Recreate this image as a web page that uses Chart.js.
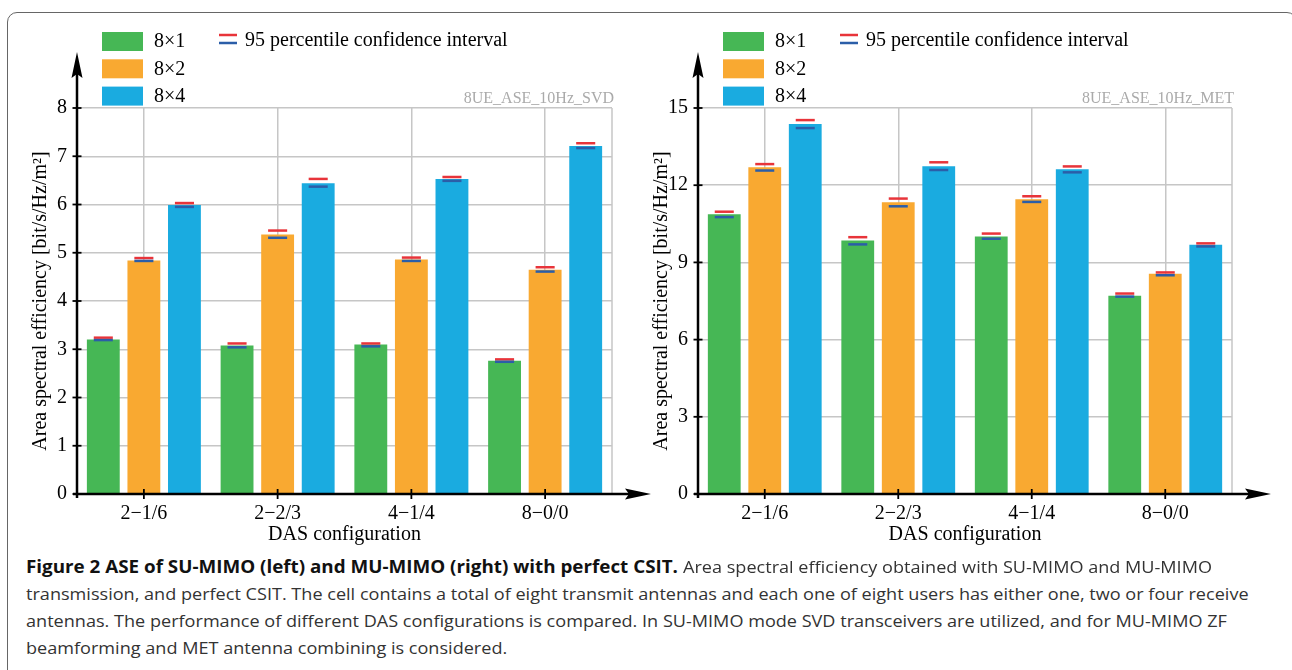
<!DOCTYPE html>
<html>
<head>
<meta charset="utf-8">
<script src="https://cdn.jsdelivr.net/npm/chart.js@4.4.0/dist/chart.umd.min.js"></script>
<style>
html, body { margin: 0; padding: 0; background: #fff; }
body { width: 1292px; height: 670px; position: relative; overflow: hidden; }
#frame { position: absolute; left: 7px; top: 12px; width: 1290px; height: 700px; border: 1.5px solid #666; border-radius: 10px; box-sizing: border-box; }
#left { position: absolute; left: 0; top: 0; }
#right { position: absolute; left: 621px; top: 0; }
#caption { position: absolute; left: 26px; top: 553px; width: 1250px; font-family: "Open Sans", sans-serif; font-size: 17px; color: #333; white-space: nowrap; }
#caption div { position: relative; height: 27px; line-height: 27px; }
#caption span { position: absolute; left: 0; top: 0; transform-origin: 0 50%; }
#caption span.b { font-weight: bold; color: #111; }
</style>
</head>
<body>
<div id="frame"></div>
<canvas id="left" width="660" height="550"></canvas>
<canvas id="right" width="671" height="550"></canvas>
<div id="caption"></div>

<script>
// categorias e séries
const categories = ['2−1/6', '2−2/3', '4−1/4', '8−0/0'];
const seriesLabels = ['8×1', '8×2', '8×4'];
const seriesColors = ['#46b755', '#f9a931', '#1aabe0'];

// SU-MIMO (SVD) - esquerda
const svd8x1 = [3.20, 3.08, 3.10, 2.76];
const svd8x2 = [4.84, 5.38, 4.86, 4.65];
const svd8x4 = [5.99, 6.44, 6.53, 7.21];
const svdHi8x1 = [3.24, 3.12, 3.12, 2.79];
const svdLo8x1 = [3.19, 3.04, 3.06, 2.74];
const svdHi8x2 = [4.89, 5.46, 4.90, 4.70];
const svdLo8x2 = [4.83, 5.31, 4.83, 4.61];
const svdHi8x4 = [6.03, 6.53, 6.57, 7.27];
const svdLo8x4 = [5.95, 6.37, 6.49, 7.17];
const svdTicks = [0, 1, 2, 3, 4, 5, 6, 7, 8];

// MU-MIMO (MET) - direita
const met8x1 = [10.87, 9.85, 10.01, 7.70];
const met8x2 = [12.70, 11.34, 11.45, 8.56];
const met8x4 = [14.38, 12.74, 12.62, 9.69];
const metHi8x1 = [10.97, 9.98, 10.12, 7.79];
const metLo8x1 = [10.76, 9.70, 9.92, 7.67];
const metHi8x2 = [12.82, 11.48, 11.57, 8.61];
const metLo8x2 = [12.57, 11.18, 11.35, 8.50];
const metHi8x4 = [14.53, 12.89, 12.73, 9.74];
const metLo8x4 = [14.22, 12.59, 12.50, 9.62];
const metTicks = [0, 3, 6, 9, 12, 15];

const yTitle = 'Area spectral efficiency [bit/s/Hz/m²]';
const xTitle = 'DAS configuration';
const ciLabel = '95 percentile confidence interval';

const captionBold = 'Figure 2 ASE of SU-MIMO (left) and MU-MIMO (right) with perfect CSIT.';
const captionLines = [
    'Area spectral efficiency obtained with SU-MIMO and MU-MIMO',
    'transmission, and perfect CSIT. The cell contains a total of eight transmit antennas and each one of eight users has either one, two or four receive',
    'antennas. The performance of different DAS configurations is compared. In SU-MIMO mode SVD transceivers are utilized, and for MU-MIMO ZF',
    'beamforming and MET antenna combining is considered.'
];

const serif = "'Liberation Serif', 'Times New Roman', serif";
const gridColor = '#c6c6c6';

function decor(hi, lo, tag) {
    return {
        id: 'decor',
        beforeDatasetsDraw(chart) {
            let ctx = chart.ctx, a = chart.chartArea;
            ctx.save();
            ctx.strokeStyle = gridColor;
            ctx.lineWidth = 1.5;
            ctx.beginPath();
            ctx.moveTo(a.right, a.top);
            ctx.lineTo(a.right, a.bottom);
            ctx.stroke();
            ctx.restore();
        },
        afterDraw(chart) {
            let ctx = chart.ctx, a = chart.chartArea;
            let xs = chart.scales.x, ys = chart.scales.y;
            ctx.save();

            // intervalos de confiança
            hi.forEach(function (arr, i) {
                chart.getDatasetMeta(i).data.forEach(function (bar, j) {
                    let half = bar.width * 0.29;
                    let yh = ys.getPixelForValue(arr[j]);
                    let yl = ys.getPixelForValue(lo[i][j]);
                    ctx.lineWidth = 2.5;
                    ctx.strokeStyle = '#e8343a';
                    ctx.beginPath(); ctx.moveTo(bar.x - half, yh); ctx.lineTo(bar.x + half, yh); ctx.stroke();
                    ctx.strokeStyle = '#2b5ea8';
                    ctx.beginPath(); ctx.moveTo(bar.x - half, yl); ctx.lineTo(bar.x + half, yl); ctx.stroke();
                });
            });

            // eixos com setas
            ctx.strokeStyle = '#000';
            ctx.fillStyle = '#000';
            ctx.lineWidth = 2.5;
            ctx.beginPath();
            ctx.moveTo(a.left, a.bottom + 4);
            ctx.lineTo(a.left, a.top - 40);
            ctx.moveTo(a.left - 4, a.bottom);
            ctx.lineTo(a.right + 20, a.bottom);
            ctx.stroke();

            let tipY = a.top - 56;
            ctx.beginPath();
            ctx.moveTo(a.left, tipY);
            ctx.lineTo(a.left + 5.5, tipY + 26);
            ctx.lineTo(a.left, tipY + 22);
            ctx.lineTo(a.left - 5.5, tipY + 26);
            ctx.closePath();
            ctx.fill();

            let tipX = a.right + 39;
            ctx.beginPath();
            ctx.moveTo(tipX, a.bottom);
            ctx.lineTo(tipX - 26, a.bottom - 5.5);
            ctx.lineTo(tipX - 22, a.bottom);
            ctx.lineTo(tipX - 26, a.bottom + 5.5);
            ctx.closePath();
            ctx.fill();

            ctx.lineWidth = 1.8;
            ys.ticks.forEach(function (t) {
                let py = ys.getPixelForValue(t.value);
                ctx.beginPath(); ctx.moveTo(a.left - 4.5, py); ctx.lineTo(a.left + 4.5, py); ctx.stroke();
            });
            xs.ticks.forEach(function (t, i) {
                let px = xs.getPixelForTick(i);
                ctx.beginPath(); ctx.moveTo(px, a.bottom - 5); ctx.lineTo(px, a.bottom + 5); ctx.stroke();
            });

            // legenda
            ctx.font = '20px ' + serif;
            ctx.textBaseline = 'middle';
            ctx.textAlign = 'left';
            chart.data.datasets.forEach(function (ds, i) {
                let top = 32 + 27.3 * i;
                ctx.fillStyle = ds.backgroundColor;
                ctx.fillRect(a.left + 25, top, 41, 19);
                ctx.fillStyle = '#000';
                ctx.fillText(ds.label, a.left + 77, top + 10);
            });
            ctx.lineWidth = 2.5;
            ctx.strokeStyle = '#e8343a';
            ctx.beginPath(); ctx.moveTo(a.left + 142, 35); ctx.lineTo(a.left + 160, 35); ctx.stroke();
            ctx.strokeStyle = '#2b5ea8';
            ctx.beginPath(); ctx.moveTo(a.left + 142, 43); ctx.lineTo(a.left + 160, 43); ctx.stroke();
            ctx.fillStyle = '#000';
            ctx.fillText(ciLabel, a.left + 168, 41);

            ctx.font = '16px ' + serif;
            ctx.fillStyle = '#aaa';
            ctx.textAlign = 'right';
            ctx.textBaseline = 'alphabetic';
            ctx.fillText(tag, a.right + 2, 103);
            ctx.restore();
        }
    };
}

function makeChart(id, values, hi, lo, ticks, padRight, tag) {
    let font = { family: serif, size: 20 };
    let ctx = document.getElementById(id).getContext('2d');
    return new Chart(ctx, {
        type: 'bar',
        data: {
            labels: categories,
            datasets: values.map(function (v, i) {
                return { label: seriesLabels[i], data: v, backgroundColor: seriesColors[i], borderWidth: 0 };
            })
        },
        options: {
            responsive: false,
            animation: false,
            layout: { padding: { left: 0, top: 108, right: padRight, bottom: 0 } },
            datasets: { bar: { categoryPercentage: 0.91, barPercentage: 0.81 } },
            plugins: { legend: { display: false }, tooltip: { enabled: false } },
            scales: {
                x: {
                    offset: true,
                    grid: { offset: false, color: gridColor, lineWidth: 1.5, drawTicks: false },
                    border: { display: false },
                    ticks: { font: font, color: '#000', padding: 8 },
                    title: { display: true, text: xTitle, font: font, color: '#000', padding: { top: 0, bottom: 3 } },
                    afterFit: function (s) { s.height = 56; }
                },
                y: {
                    min: ticks[0],
                    max: ticks[ticks.length - 1],
                    afterBuildTicks: function (s) { s.ticks = ticks.map(function (v) { return { value: v }; }); },
                    grid: { color: gridColor, lineWidth: 1.5, drawTicks: false },
                    border: { display: false },
                    ticks: { font: font, color: '#000', padding: 10 },
                    title: { display: true, text: yTitle, font: font, color: '#000', padding: { top: 29, bottom: 0 } },
                    afterFit: function (s) { s.width = 77; }
                }
            }
        },
        plugins: [decor(hi, lo, tag)]
    });
}

makeChart('left', [svd8x1, svd8x2, svd8x4], [svdHi8x1, svdHi8x2, svdHi8x4], [svdLo8x1, svdLo8x2, svdLo8x4], svdTicks, 48, '8UE_ASE_10Hz_SVD');
makeChart('right', [met8x1, met8x2, met8x4], [metHi8x1, metHi8x2, metHi8x4], [metLo8x1, metLo8x2, metLo8x4], metTicks, 60, '8UE_ASE_10Hz_MET');

// legenda da figura (texto condensado com scaleX)
let cap = document.getElementById('caption');
let regular = [];
let bold = null;
captionLines.forEach(function (t, i) {
    let d = document.createElement('div');
    if (i === 0) {
        bold = document.createElement('span');
        bold.className = 'b';
        bold.textContent = captionBold;
        d.appendChild(bold);
    }
    let s = document.createElement('span');
    s.textContent = t;
    d.appendChild(s);
    regular.push(s);
    cap.appendChild(d);
});
let boldW = 652;
let kb = boldW / bold.getBoundingClientRect().width;
bold.style.transform = 'scaleX(' + kb + ')';
let kr = (1212 - 26 - boldW - 5) / regular[0].getBoundingClientRect().width;
regular[0].style.left = (boldW + 5) + 'px';
regular.forEach(function (s) { s.style.transform = 'scaleX(' + kr + ')'; });
</script>
</body>
</html>
